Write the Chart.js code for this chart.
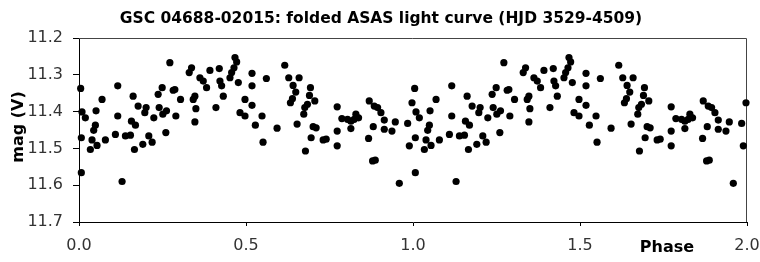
<!DOCTYPE html>
<html>
<head>
<meta charset="utf-8">
<script src="https://cdn.jsdelivr.net/npm/chart.js@4"></script>
<style>
  html, body { margin: 0; padding: 0; background: #fff; }
  #wrap { width: 760px; height: 262px; }
</style>
</head>
<body>
<div id="wrap"><canvas id="lightCurve" width="760" height="262"></canvas></div>
<script>
// folded light curve, one cycle (phase 0..1)
const phases = [
  0.005, 0.009, 0.019, 0.007, 0.007, 0.116, 0.069, 0.051, 0.116, 0.049,
  0.044, 0.039, 0.034, 0.054, 0.079, 0.109, 0.129, 0.139, 0.154, 0.162,
  0.157, 0.169, 0.166, 0.177, 0.191, 0.201, 0.197, 0.209, 0.219, 0.237,
  0.224, 0.240, 0.249, 0.272, 0.337, 0.330, 0.362, 0.372, 0.392, 0.420,
  0.422, 0.427, 0.467, 0.472, 0.464, 0.457, 0.452, 0.477, 0.382, 0.432,
  0.287, 0.282, 0.304, 0.347, 0.342, 0.350, 0.410, 0.347, 0.290, 0.262,
  0.251, 0.260, 0.497, 0.482, 0.497, 0.518, 0.518, 0.561, 0.518, 0.548,
  0.528, 0.551, 0.593, 0.616, 0.628, 0.659, 0.641, 0.649, 0.639, 0.633,
  0.693, 0.690, 0.706, 0.684, 0.676, 0.673, 0.653, 0.701, 0.710, 0.695,
  0.731, 0.740, 0.678, 0.773, 0.773, 0.773, 0.787, 0.804, 0.814, 0.814,
  0.829, 0.837, 0.824, 0.869, 0.884, 0.894, 0.904, 0.914, 0.881, 0.914,
  0.937, 0.947, 0.867, 0.879, 0.887, 0.959, 0.997, 0.984, 0.989
];
const mags = [
  11.337, 11.401, 11.417, 11.471, 11.566, 11.330, 11.367, 11.398, 11.412, 11.437,
  11.451, 11.477, 11.503, 11.492, 11.477, 11.462, 11.590, 11.466, 11.464, 11.358,
  11.426, 11.437, 11.503, 11.385, 11.489, 11.389, 11.403, 11.466, 11.483, 11.353,
  11.417, 11.389, 11.335, 11.267, 11.281, 11.294, 11.308, 11.317, 11.288, 11.283,
  11.317, 11.330, 11.253, 11.265, 11.281, 11.294, 11.308, 11.321, 11.335, 11.358,
  11.340, 11.342, 11.367, 11.358, 11.367, 11.392, 11.389, 11.428, 11.412, 11.398,
  11.407, 11.457, 11.367, 11.403, 11.412, 11.296, 11.330, 11.310, 11.383, 11.412,
  11.437, 11.483, 11.445, 11.274, 11.308, 11.308, 11.329, 11.347, 11.365, 11.376,
  11.335, 11.356, 11.371, 11.380, 11.389, 11.407, 11.434, 11.441, 11.444, 11.471,
  11.477, 11.475, 11.507, 11.387, 11.453, 11.493, 11.419, 11.421, 11.426, 11.446,
  11.407, 11.417, 11.421, 11.371, 11.385, 11.389, 11.403, 11.423, 11.441, 11.448,
  11.453, 11.428, 11.473, 11.534, 11.532, 11.595, 11.376, 11.432, 11.493
];
const cycles = [0, 1];   // the fold is plotted twice
const xTicks = [0, 0.5, 1.0, 1.5, 2.0];
const yTicks = [11.2, 11.3, 11.4, 11.5, 11.6, 11.7];

const chartTitle = 'GSC 04688-02015: folded ASAS light curve (HJD 3529-4509)';
const xTitle = 'Phase';
const yTitle = 'mag (V)';

const points = [];
cycles.forEach(c => {
    phases.forEach((p, i) => points.push({ x: p + c, y: mags[i] }));
});

// frame + titles drawn by hand so they sit where the original has them
const decorPlugin = {
    id: 'decor',
    beforeDatasetsDraw(chart) {
        const { ctx, chartArea: a } = chart;
        ctx.save();
        ctx.strokeStyle = '#444';
        ctx.lineWidth = 1;
        ctx.beginPath();
        ctx.moveTo(a.left, a.top + 0.5);
        ctx.lineTo(a.right - 0.5, a.top + 0.5);
        ctx.lineTo(a.right - 0.5, a.bottom);
        ctx.stroke();
        ctx.restore();
    },
    afterDraw(chart) {
        const { ctx } = chart;
        ctx.save();
        ctx.fillStyle = '#000';
        ctx.textAlign = 'center';
        ctx.textBaseline = 'middle';

        ctx.font = 'bold 15.5px "DejaVu Sans"';
        ctx.fillText(chartTitle, 381, 19);

        ctx.font = 'bold 16px "DejaVu Sans"';
        ctx.fillText(xTitle, 667, 248);

        ctx.translate(19, 127);
        ctx.rotate(-Math.PI / 2);
        ctx.fillText(yTitle, 0, 0);
        ctx.restore();
    }
};

const ctx = document.getElementById('lightCurve').getContext('2d');
new Chart(ctx, {
    type: 'scatter',
    data: {
        datasets: [{
            data: points,
            backgroundColor: '#000',
            borderColor: '#000',
            borderWidth: 0,
            pointRadius: 3.6,
            clip: false
        }]
    },
    options: {
        responsive: false,
        animation: false,
        events: [],
        layout: { padding: { top: 38, right: 13, left: 0, bottom: 0 } },
        plugins: {
            legend: { display: false },
            title: { display: false },
            tooltip: { enabled: false }
        },
        scales: {
            x: {
                type: 'linear',
                min: 0,
                max: 2,
                afterFit: scale => {
                    scale.height = 40;
                    scale.paddingLeft = 0;
                    scale.paddingRight = 0;
                },
                afterBuildTicks: scale => { scale.ticks = xTicks.map(v => ({ value: v })); },
                grid: { drawOnChartArea: false, tickLength: 4, color: '#000' },
                border: { color: '#000', width: 1 },
                ticks: {
                    padding: 10,
                    color: '#333',
                    font: { family: 'DejaVu Sans', size: 16 },
                    callback: v => Number(v).toFixed(1)
                }
            },
            y: {
                type: 'linear',
                reverse: true,
                min: 11.2,
                max: 11.7,
                afterFit: scale => {
                    scale.width = 79;
                    scale.paddingTop = 0;
                    scale.paddingBottom = 0;
                },
                afterBuildTicks: scale => { scale.ticks = yTicks.map(v => ({ value: v })); },
                grid: { drawOnChartArea: false, tickLength: 6, color: '#000' },
                border: { color: '#000', width: 1 },
                ticks: {
                    padding: 10,
                    color: '#333',
                    font: { family: 'DejaVu Sans', size: 16 },
                    callback: v => Number(v).toFixed(1)
                }
            }
        }
    },
    plugins: [decorPlugin]
});
</script>
</body>
</html>
